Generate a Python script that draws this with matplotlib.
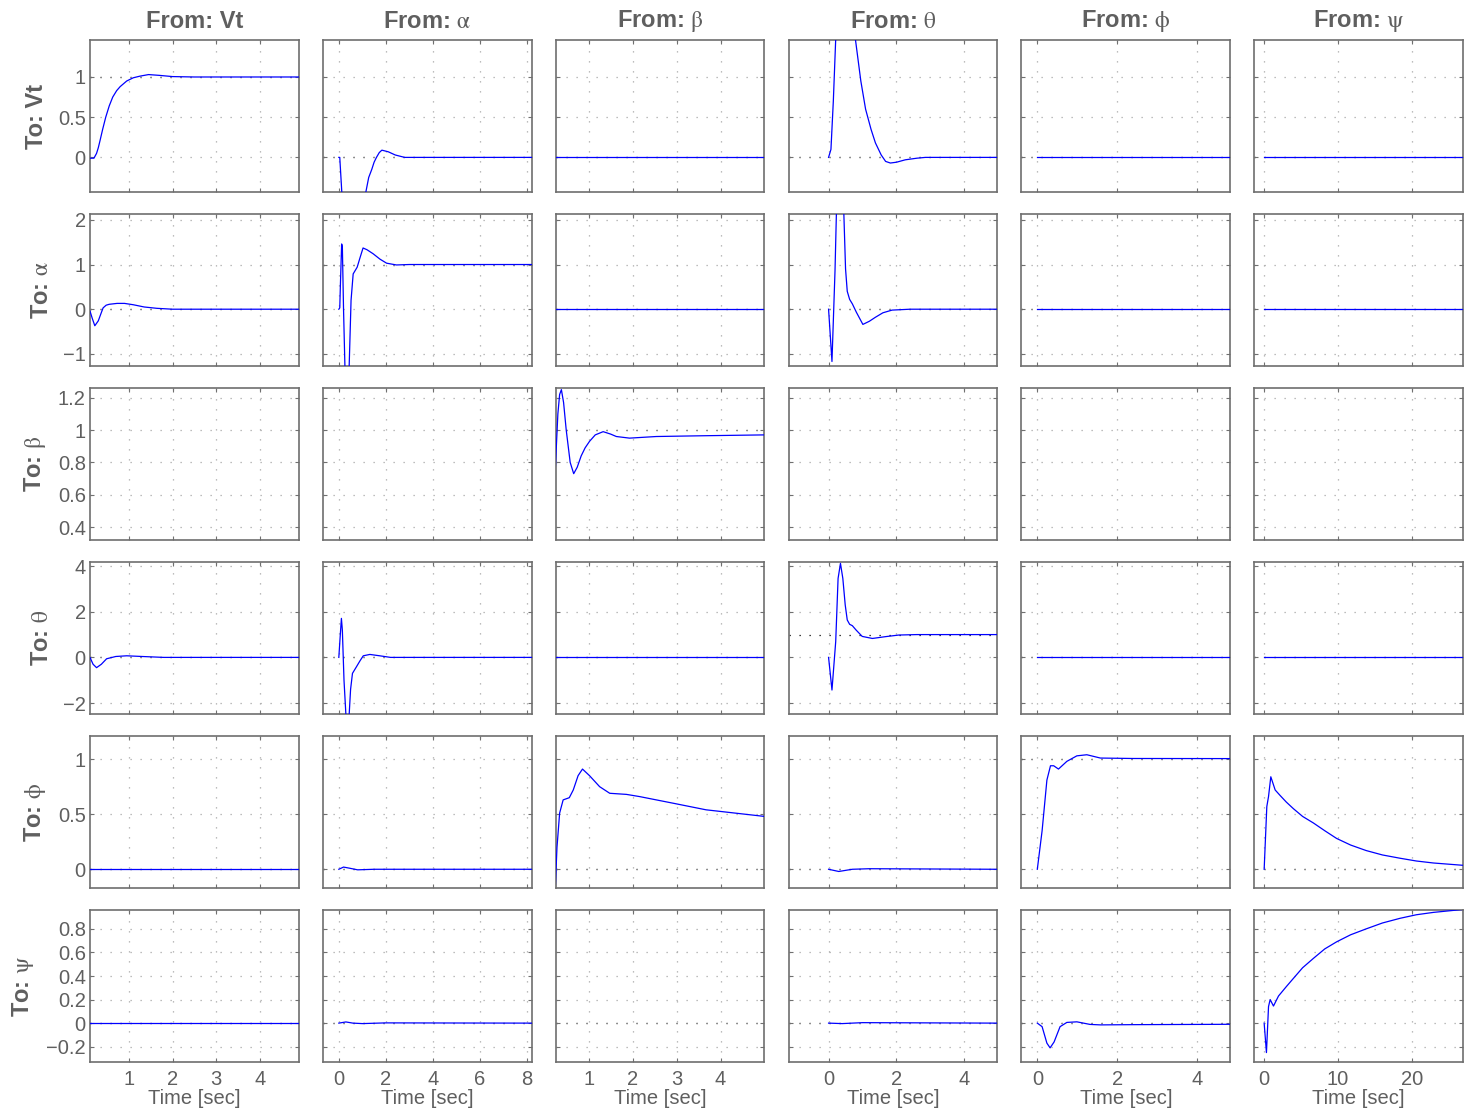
import matplotlib.pyplot as plt
from matplotlib.ticker import FuncFormatter
import numpy as np

plt.rcParams['font.family'] = ['Liberation Sans', 'DejaVu Sans']
plt.rcParams['mathtext.fontset'] = 'stix'

# channel names (inputs = columns, outputs = rows)
names = ['Vt', r'$\mathrm{\alpha}$', r'$\mathrm{\beta}$', r'$\mathrm{\theta}$',
         r'$\mathrm{\phi}$', r'$\mathrm{\psi}$']

# steady-state values (row = output, col = input)
final = [[1, 0, 0, 0, 0, 0],
         [0, 1, 0, 0, 0, 0],
         [0, 0, 1, 0, 0, 0],
         [0, 0, 0, 1, 0, 0],
         [0, 0, 0, 0, 1, 0],
         [0, 0, 0, 0, 0, 1]]

# per column time span of the simulation
t_end = [4.89, 8.2, 5.0, 4.97, 4.83, 26.9]

# ---- From Vt ----
t_vt_vt = [0, 0.11, 0.2, 0.26, 0.3, 0.34, 0.4, 0.47, 0.55, 0.63, 0.72, 0.8, 0.95, 1.1, 1.25,
           1.45, 1.7, 2.0, 2.5, 4.89]
y_vt_vt = [0, -0.01, -0.01, 0.05, 0.12, 0.21, 0.35, 0.5, 0.64, 0.75, 0.83, 0.88, 0.95, 0.99, 1.01,
           1.03, 1.02, 1.005, 1.0, 1.0]
t_vt_a = [0, 0.11, 0.16, 0.22, 0.3, 0.36, 0.41, 0.48, 0.55, 0.73, 0.9, 1.1, 1.35, 1.64, 2.0, 4.89]
y_vt_a = [0, -0.04, -0.2, -0.37, -0.26, -0.1, 0.03, 0.09, 0.11, 0.13, 0.13, 0.1, 0.05, 0.02, 0, 0]
t_vt_th = [0, 0.11, 0.18, 0.26, 0.37, 0.49, 0.7, 0.95, 1.3, 1.8, 4.89]
y_vt_th = [0, 0.0, -0.3, -0.45, -0.3, -0.06, 0.04, 0.07, 0.04, 0.0, 0]

# ---- From alpha ----
t_a_vt = [0, 0.04, 0.13, 0.3, 0.6, 0.9, 1.15, 1.27, 1.4, 1.5, 1.6, 1.72, 1.83, 2.1, 2.4, 2.8, 3.5, 8.2]
y_a_vt = [0, 0, -0.45, -2.0, -2.6, -1.5, -0.43, -0.25, -0.15, -0.06, 0.0, 0.06, 0.09, 0.07, 0.03,
          0.0, 0, 0]
t_a_a = [0, 0.04, 0.07, 0.12, 0.15, 0.2, 0.26, 0.3, 0.38, 0.44, 0.52, 0.61, 0.78, 0.9, 1.03,
         1.2, 1.46, 1.75, 2.03, 2.45, 3.0, 8.2]
y_a_a = [0, 0.03, 0.6, 1.46, 1.4, 0.0, -1.3, -2.8, -2.8, -1.27, 0.2, 0.79, 0.94, 1.15, 1.37,
         1.33, 1.24, 1.12, 1.03, 0.99, 1.0, 1.0]
t_a_th = [0, 0.05, 0.11, 0.15, 0.22, 0.3, 0.37, 0.44, 0.5, 0.58, 0.75, 0.9, 1.04, 1.32, 1.74, 2.2, 8.2]
y_a_th = [0, 0.8, 1.71, 1.2, -1.0, -2.5, -3.4, -2.5, -1.4, -0.7, -0.41, -0.15, 0.07, 0.13, 0.07, 0.0, 0]
t_a_ph = [0, 0.2, 0.45, 0.8, 1.5, 8.2]
y_a_ph = [0, 0.02, 0.01, -0.005, 0.0, 0]
t_a_ps = [0, 0.3, 0.6, 1.0, 2.0, 8.2]
y_a_ps = [0, 0.01, 0.0, -0.004, 0.002, 0]

# ---- From beta ----
t_b_b = [0, 0.24, 0.3, 0.34, 0.38, 0.43, 0.49, 0.58, 0.66, 0.74, 0.83, 0.92, 1.02, 1.15, 1.33,
         1.5, 1.63, 1.93, 2.54, 3.67, 5.0]
y_b_b = [0, 0.75, 1.1, 1.22, 1.25, 1.17, 1.0, 0.8, 0.73, 0.77, 0.84, 0.89, 0.93, 0.97, 0.99,
         0.975, 0.96, 0.95, 0.96, 0.965, 0.97]
t_b_ph = [0, 0.24, 0.28, 0.34, 0.42, 0.56, 0.65, 0.76, 0.86, 1.02, 1.25, 1.48, 1.86, 2.16, 2.92, 3.67, 5.0]
y_b_ph = [-1.0, -0.18, 0.2, 0.51, 0.63, 0.65, 0.72, 0.85, 0.91, 0.85, 0.75, 0.69, 0.68, 0.66, 0.6, 0.54, 0.48]

# ---- From theta ----
t_th_vt = [0, 0.07, 0.14, 0.21, 0.35, 0.5, 0.65, 0.79, 0.95, 1.09, 1.25, 1.38, 1.55, 1.68, 1.82,
           2.0, 2.26, 2.6, 2.85, 4.97]
y_th_vt = [0, 0.1, 0.7, 1.47, 2.3, 2.5, 2.2, 1.47, 0.95, 0.6, 0.35, 0.18, 0.03, -0.05, -0.07,
           -0.06, -0.03, -0.01, 0, 0]
t_th_a = [0, 0.1, 0.19, 0.23, 0.33, 0.4, 0.45, 0.5, 0.55, 0.62, 0.7, 0.82, 1.01, 1.2, 1.38, 1.6,
          1.87, 2.4, 4.97]
y_th_a = [0, -1.17, 0.87, 2.13, 3.5, 3.0, 2.13, 0.9, 0.4, 0.22, 0.12, -0.07, -0.34, -0.27, -0.18,
          -0.08, -0.02, 0, 0]
t_th_th = [0, 0.1, 0.21, 0.28, 0.35, 0.42, 0.49, 0.55, 0.62, 0.7, 0.81, 0.99, 1.29, 1.68, 2.07, 2.6, 4.97]
y_th_th = [0, -1.43, 0.69, 3.46, 4.12, 3.46, 2.3, 1.64, 1.45, 1.39, 1.2, 0.92, 0.83, 0.91, 0.98, 1.0, 1.0]
t_th_ph = [0, 0.3, 0.7, 1.2, 4.97]
y_th_ph = [0, -0.02, 0.0, 0.005, 0]
t_th_ps = [0, 0.4, 1.0, 4.97]
y_th_ps = [0, -0.004, 0.004, 0]

# ---- From phi ----
t_ph_ph = [0, 0.12, 0.24, 0.33, 0.41, 0.53, 0.74, 0.99, 1.24, 1.58, 2.4, 4.83]
y_ph_ph = [0, 0.35, 0.81, 0.94, 0.94, 0.91, 0.98, 1.03, 1.04, 1.01, 1.006, 1.005]
t_ph_ps = [0, 0.12, 0.24, 0.32, 0.42, 0.57, 0.74, 0.99, 1.32, 1.58, 2.4, 4.83]
y_ph_ps = [0, -0.03, -0.17, -0.21, -0.16, -0.03, 0.006, 0.011, -0.011, -0.015, -0.013, -0.01]

# ---- From psi ----
t_ps_ph = [0, 0.36, 0.59, 0.9, 1.49, 2.16, 3.0, 3.96, 5.2, 6.67, 8.2, 9.8, 11.7, 13.8, 16.0, 18.4,
           20.6, 22.9, 26.9]
y_ps_ph = [0, 0.57, 0.66, 0.84, 0.72, 0.67, 0.61, 0.55, 0.48, 0.42, 0.35, 0.28, 0.22, 0.17, 0.13,
           0.10, 0.075, 0.057, 0.036]
t_ps_ps = [0, 0.31, 0.59, 0.81, 1.26, 1.94, 3.0, 3.96, 5.2, 6.67, 8.2, 9.8, 11.7, 13.8, 16.0, 18.4,
           20.6, 22.9, 26.9]
y_ps_ps = [0, -0.25, 0.14, 0.20, 0.145, 0.23, 0.31, 0.38, 0.47, 0.55, 0.63, 0.69, 0.75, 0.80, 0.85,
           0.89, 0.92, 0.94, 0.965]

Z = 'zero'
curves = [
    [(t_vt_vt, y_vt_vt), (t_a_vt, y_a_vt), Z, (t_th_vt, y_th_vt), Z, Z],
    [(t_vt_a, y_vt_a), (t_a_a, y_a_a), Z, (t_th_a, y_th_a), Z, Z],
    [Z, Z, (t_b_b, y_b_b), Z, Z, Z],
    [(t_vt_th, y_vt_th), (t_a_th, y_a_th), Z, (t_th_th, y_th_th), Z, Z],
    [Z, (t_a_ph, y_a_ph), (t_b_ph, y_b_ph), (t_th_ph, y_th_ph), (t_ph_ph, y_ph_ph), (t_ps_ph, y_ps_ph)],
    [Z, (t_a_ps, y_a_ps), None, (t_th_ps, y_th_ps), (t_ph_ps, y_ph_ps), (t_ps_ps, y_ps_ps)],
]

# axis setup
col_xlim = [(0.11, 4.89), (-0.68, 8.2), (0.25, 5.0), (-1.18, 4.97), (-0.4, 4.83), (-1.35, 26.9)]
col_xticks = [[1, 2, 3, 4], [0, 2, 4, 6, 8], [1, 2, 3, 4], [0, 2, 4], [0, 2, 4], [0, 10, 20]]
row_ylim = [(-0.43, 1.46), (-1.27, 2.13), (0.32, 1.26), (-2.48, 4.18), (-0.17, 1.21), (-0.33, 0.96)]
row_yticks = [[0, 0.5, 1], [-1, 0, 1, 2], [0.4, 0.6, 0.8, 1, 1.2], [-2, 0, 2, 4],
              [0, 0.5, 1], [-0.2, 0, 0.2, 0.4, 0.6, 0.8]]

grey = '#5f5f5f'
fmt = FuncFormatter(lambda v, p: ('%g' % v).replace('-', '\u2212'))

fig, axes = plt.subplots(6, 6, figsize=(14.64, 11.17), dpi=100)
fig.subplots_adjust(left=90 / 1464, right=1463 / 1464, top=1 - 40 / 1117,
                    bottom=1 - 1062 / 1117, wspace=0.115, hspace=0.145)

for i in range(6):
    for j in range(6):
        ax = axes[i, j]
        ax.axhline(final[i][j], color='k', linestyle=(0, (1, 7)), lw=0.9, zorder=1.5)
        c = curves[i][j]
        if c == Z:
            ax.plot([0, t_end[j]], [0, 0], color='#0000ff', lw=0.9, zorder=3)
        elif c is not None:
            ax.plot(c[0], c[1], color='#0000ff', lw=0.9, zorder=3)
        ax.set_xlim(col_xlim[j])
        ax.set_ylim(row_ylim[i])
        ax.set_xticks(col_xticks[j])
        ax.set_yticks(row_yticks[i])
        ax.xaxis.set_major_formatter(fmt)
        ax.yaxis.set_major_formatter(fmt)
        ax.grid(True, color='#a8a8a8', linestyle=(0, (1, 7)), lw=0.9)
        ax.tick_params(direction='in', length=3, color='#707070', top=True, right=True,
                       labelsize=14.5, labelcolor=grey, pad=3,
                       labelleft=(j == 0), labelbottom=(i == 5))
        ax.tick_params(axis='x', pad=6)
        for s in ax.spines.values():
            s.set_color('#6e6e6e')
            s.set_linewidth(1.2)
        if i == 0:
            ax.set_title('From: ' + names[j], fontsize=17, fontweight='bold', color=grey, pad=9)
        if j == 0:
            ax.set_ylabel('To: ' + names[i], fontsize=17, fontweight='bold', color=grey, labelpad=7)
        if i == 5:
            ax.set_xlabel('Time [sec]', fontsize=14.5, color=grey, labelpad=0)

fig.savefig('out.png', dpi=100, facecolor='white')
